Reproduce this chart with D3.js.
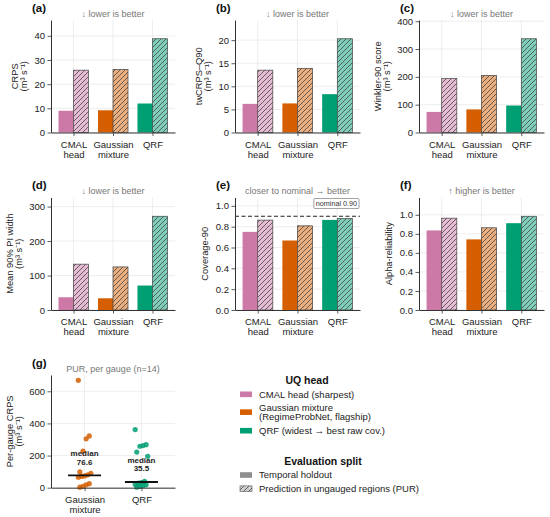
<!DOCTYPE html>
<html>
<head>
<meta charset="utf-8">
<script src="https://cdn.jsdelivr.net/npm/d3@7"></script>
<style>
  html, body { margin: 0; padding: 0; background: #fff; }
  svg { display: block; }
</style>
</head>
<body>
<div id="chart"></div>
<script>
// ---- data ----
const heads = ['CMAL head', 'Gaussian mixture', 'QRF'];
const headTicks = [['CMAL', 'head'], ['Gaussian', 'mixture'], ['QRF']];
const headLegend = [['CMAL head (sharpest)'], ['Gaussian mixture', '(RegimeProbNet, flagship)'], ['QRF (widest \u2192 best raw cov.)']];

const crpsTemporal = [9.0, 9.2, 12.0];
const crpsPur = [25.8, 26.1, 38.8];
const twcrpsTemporal = [6.2, 6.3, 8.3];
const twcrpsPur = [13.5, 13.9, 20.3];
const winklerTemporal = [74, 83, 97];
const winklerPur = [194, 205, 337];
const widthTemporal = [37, 34, 71];
const widthPur = [133, 125, 272];
const coverageTemporal = [0.75, 0.667, 0.865];
const coveragePur = [0.863, 0.808, 0.878];
const alphaTemporal = [0.836, 0.742, 0.912];
const alphaPur = [0.965, 0.864, 0.985];
const nominal = 0.9;

const gaugeModels = ['Gaussian mixture', 'QRF'];
const gaugeTicks = [['Gaussian', 'mixture'], ['QRF']];
const gaussPerGauge = [668, 322, 304, 228, 98, 90, 80, 73.2, 70, 65, 25, 18, 8, 3];
const qrfPerGauge = [362, 268, 262, 258, 222, 195, 39, 32, 28, 22, 18, 12, 8, 3];

const splits = ['Temporal holdout', 'Prediction in ungauged regions (PUR)'];

// ---- styling ----
const font = "'Liberation Sans', Arial, Helvetica, sans-serif";
const colors = ['#CC79A7', '#D55E00', '#009E73'];
const units = '(m\u00b3 s\u207b\u00b9)';
const W = 550, H = 517;
const cols = [[51, 175], [235, 360], [419, 544]];
const rows = [[20, 132.5], [197.5, 310], [375, 487.7]];

const svg = d3.select('#chart').append('svg')
    .attr('width', W).attr('height', H)
    .style('font-family', font);

const defs = svg.append('defs');
defs.append('pattern')
    .attr('id', 'hatch')
    .attr('patternUnits', 'userSpaceOnUse')
    .attr('width', 5).attr('height', 5)
    .call((p) => p.append('path')
        .attr('d', 'M-1,1 l2,-2 M0,5 l5,-5 M4,6 l2,-2')
        .attr('stroke', '#444').attr('stroke-width', 0.8));

const panels = [
    {label: '(a)', col: 0, row: 0, t: crpsTemporal, p: crpsPur, ylabel: ['CRPS', units], ticks: [0, 10, 20, 30, 40], note: '\u2193 lower is better'},
    {label: '(b)', col: 1, row: 0, t: twcrpsTemporal, p: twcrpsPur, ylabel: ['twCRPS\u2013Q90', units], ticks: [0, 5, 10, 15, 20], note: '\u2193 lower is better'},
    {label: '(c)', col: 2, row: 0, t: winklerTemporal, p: winklerPur, ylabel: ['Winkler-90 score', units], ticks: [0, 100, 200, 300, 400], note: '\u2193 lower is better'},
    {label: '(d)', col: 0, row: 1, t: widthTemporal, p: widthPur, ylabel: ['Mean 90% PI width', units], ticks: [0, 100, 200, 300], note: '\u2193 lower is better'},
    {label: '(e)', col: 1, row: 1, t: coverageTemporal, p: coveragePur, ylabel: ['Coverage-90'], ticks: [0, 0.2, 0.4, 0.6, 0.8, 1.0], note: 'closer to nominal \u2192 better', fmt: d3.format('.1f'), nominal: nominal},
    {label: '(f)', col: 2, row: 1, t: alphaTemporal, p: alphaPur, ylabel: ['Alpha-reliability'], ticks: [0, 0.2, 0.4, 0.6, 0.8, 1.0], note: '\u2191 higher is better', fmt: d3.format('.1f')},
];

function frame(g, x, y, xt, yt, fmt, tickLines, ylabel) {
    const [x0, x1] = x.range();
    const [y1, y0] = y.range();
    // grid
    g.append('g').selectAll('line').data(yt).join('line')
        .attr('x1', x0).attr('x2', x1)
        .attr('y1', (d) => y(d)).attr('y2', (d) => y(d))
        .attr('stroke', '#e6e6e6').attr('stroke-width', 0.7);
    g.append('g').selectAll('line').data(xt).join('line')
        .attr('x1', (d) => x(d)).attr('x2', (d) => x(d))
        .attr('y1', y0).attr('y2', y1)
        .attr('stroke', '#e6e6e6').attr('stroke-width', 0.7);
    const marks = g.append('g');
    const yAxis = g.append('g')
        .attr('transform', `translate(${x0},0)`)
        .call(d3.axisLeft(y).tickValues(yt).tickSize(3.5).tickSizeOuter(0).tickPadding(2.5)
            .tickFormat(fmt || d3.format('d')));
    const xAxis = g.append('g')
        .attr('transform', `translate(0,${y1})`)
        .call(d3.axisBottom(x).tickValues(xt).tickSize(3.5).tickSizeOuter(0).tickFormat(''));
    [yAxis, xAxis].forEach((a) => {
        a.select('.domain').attr('stroke', '#333').attr('stroke-width', 1);
        a.selectAll('.tick line').attr('stroke', '#333').attr('stroke-width', 0.8);
        a.selectAll('text').attr('fill', '#222').style('font-size', '9.5px').style('font-family', font);
    });
    xAxis.selectAll('.tick').each(function (d, i) {
        const t = d3.select(this).append('text')
            .attr('fill', '#222').attr('text-anchor', 'middle')
            .style('font-size', '9.5px').style('font-family', font);
        tickLines[i].forEach((s, k) => t.append('tspan').attr('x', 0).attr('y', 15 + k * 10.2).text(s));
    });
    // y label, to the left of the tick labels
    const left = yAxis.node().getBBox().x + x0;
    const n = ylabel.length;
    ylabel.forEach((s, k) => {
        const bx = left - 7.5 - (n - 1 - k) * 9;
        g.append('text')
            .attr('transform', `translate(${bx},${(y0 + y1) / 2}) rotate(-90)`)
            .attr('text-anchor', 'middle')
            .attr('fill', '#222')
            .style('font-size', '9.3px')
            .text(s);
    });
    return marks;
}

function titles(g, label, note, x0, x1, y0) {
    g.append('text').attr('x', x0 - 19).attr('y', y0 - 8.5)
        .attr('fill', '#111').style('font-size', '11.5px').style('font-weight', 'bold').text(label);
    g.append('text').attr('x', (x0 + x1) / 2).attr('y', y0 - 3.5)
        .attr('text-anchor', 'middle').attr('fill', '#777').style('font-size', '9px').text(note);
}

// ---- bar panels ----
panels.forEach((pn) => {
    const [x0, x1] = cols[pn.col];
    const [y0, y1] = rows[pn.row];
    const g = svg.append('g');
    const x = d3.scaleLinear().domain([-0.57, 2.57]).range([x0, x1]);
    const ymax = 1.2 * d3.max([...pn.t, ...pn.p, pn.nominal || 0]);
    const y = d3.scaleLinear().domain([0, ymax]).range([y1, y0]);
    const marks = frame(g, x, y, d3.range(heads.length), pn.ticks, pn.fmt, headTicks, pn.ylabel);
    const bw = 0.38;
    marks.selectAll('rect.t').data(pn.t).join('rect')
        .attr('class', 't')
        .attr('x', (d, i) => x(i - bw)).attr('width', x(bw) - x(0))
        .attr('y', (d) => y(d)).attr('height', (d) => y(0) - y(d))
        .attr('fill', (d, i) => colors[i]);
    marks.selectAll('rect.p').data(pn.p).join('rect')
        .attr('class', 'p')
        .attr('x', (d, i) => x(i)).attr('width', x(bw) - x(0))
        .attr('y', (d) => y(d)).attr('height', (d) => y(0) - y(d))
        .attr('fill', (d, i) => colors[i]).attr('fill-opacity', 0.5);
    marks.selectAll('rect.h').data(pn.p).join('rect')
        .attr('class', 'h')
        .attr('x', (d, i) => x(i)).attr('width', x(bw) - x(0))
        .attr('y', (d) => y(d)).attr('height', (d) => y(0) - y(d))
        .attr('fill', 'url(#hatch)').attr('stroke', '#444').attr('stroke-width', 0.7);
    if (pn.nominal) {
        marks.append('line')
            .attr('x1', x0).attr('x2', x1)
            .attr('y1', y(pn.nominal)).attr('y2', y(pn.nominal))
            .attr('stroke', '#222').attr('stroke-width', 1.2).attr('stroke-dasharray', '4,2.5');
        const tag = g.append('g');
        const txt = tag.append('text')
            .attr('x', x1 - 3).attr('y', y0 + 8.5)
            .attr('text-anchor', 'end').attr('fill', '#333')
            .style('font-size', '7.2px').text('nominal ' + d3.format('.2f')(pn.nominal));
        const bb = txt.node().getBBox();
        tag.insert('rect', 'text')
            .attr('x', bb.x - 2).attr('y', bb.y - 0.5)
            .attr('width', bb.width + 4).attr('height', bb.height + 1)
            .attr('rx', 1).attr('fill', '#fff').attr('stroke', '#666').attr('stroke-width', 0.6);
    }
    titles(g, pn.label, pn.note, x0, x1, y0);
});

// ---- (g) per-gauge strip plot ----
{
    const [x0, x1] = cols[0];
    const [y0, y1] = rows[2];
    const g = svg.append('g');
    const x = d3.scaleLinear().domain([-0.59, 1.59]).range([x0, x1]);
    const all = [gaussPerGauge, qrfPerGauge];
    const y = d3.scaleLinear().domain([0, 1.05 * d3.max(all.flat())]).range([y1, y0]);
    const marks = frame(g, x, y, [0, 1], [0, 200, 400, 600], null, gaugeTicks, ['Per-gauge CRPS', units]);
    const jitter = (i) => (((i * 7) % 9) - 4) / 4 * 0.11;
    all.forEach((vals, k) => {
        const c = colors[k + 1];
        marks.append('g').selectAll('circle').data(vals).join('circle')
            .attr('cx', (d, i) => x(k + jitter(i)))
            .attr('cy', (d) => y(d))
            .attr('r', 2.6)
            .attr('fill', c).attr('fill-opacity', 0.85);
        const med = d3.median(vals);
        marks.append('line')
            .attr('x1', x(k - 0.29)).attr('x2', x(k + 0.29))
            .attr('y1', y(med)).attr('y2', y(med))
            .attr('stroke', '#111').attr('stroke-width', 1.8);
        const t = marks.append('text')
            .attr('text-anchor', 'middle').attr('fill', '#222')
            .style('font-size', '8px').style('font-weight', 'bold');
        t.append('tspan').attr('x', x(k)).attr('y', y(med) - 19).text('median');
        t.append('tspan').attr('x', x(k)).attr('y', y(med) - 10.5).text(d3.format('.1f')(med));
    });
    titles(g, '(g)', 'PUR, per gauge (n=' + gaussPerGauge.length + ')', x0, x1, y0);
}

// ---- legends ----
{
    const lg = svg.append('g').style('font-size', '9.5px');
    const lx = 240, tx = 259;
    lg.append('text').attr('x', 307).attr('y', 383.5).attr('text-anchor', 'middle')
        .style('font-size', '10.5px').style('font-weight', 'bold').attr('fill', '#111').text('UQ head');
    const rowsY = [[394.3], [407.3, 417], [430.7]];
    headLegend.forEach((lines, i) => {
        const cy = d3.mean(rowsY[i]);
        lg.append('rect').attr('x', lx).attr('y', cy - 2.8).attr('width', 12).attr('height', 5.6)
            .attr('fill', colors[i]);
        lines.forEach((s, k) => lg.append('text').attr('x', tx).attr('y', rowsY[i][k] + 3.3)
            .attr('fill', '#222').text(s));
    });
    lg.append('text').attr('x', 323).attr('y', 464.5).attr('text-anchor', 'middle')
        .style('font-size', '10.5px').style('font-weight', 'bold').attr('fill', '#111').text('Evaluation split');
    const sy = [475, 488.7];
    splits.forEach((s, i) => {
        lg.append('rect').attr('x', lx).attr('y', sy[i] - 2.8).attr('width', 12).attr('height', 5.6)
            .attr('fill', i ? '#cfcfcf' : '#8f8f8f');
        if (i) {
            lg.append('rect').attr('x', lx).attr('y', sy[i] - 2.8).attr('width', 12).attr('height', 5.6)
                .attr('fill', 'url(#hatch)').attr('stroke', '#555').attr('stroke-width', 0.6);
        }
        lg.append('text').attr('x', tx).attr('y', sy[i] + 3.3).attr('fill', '#222').text(s);
    });
}
</script>
</body>
</html>
